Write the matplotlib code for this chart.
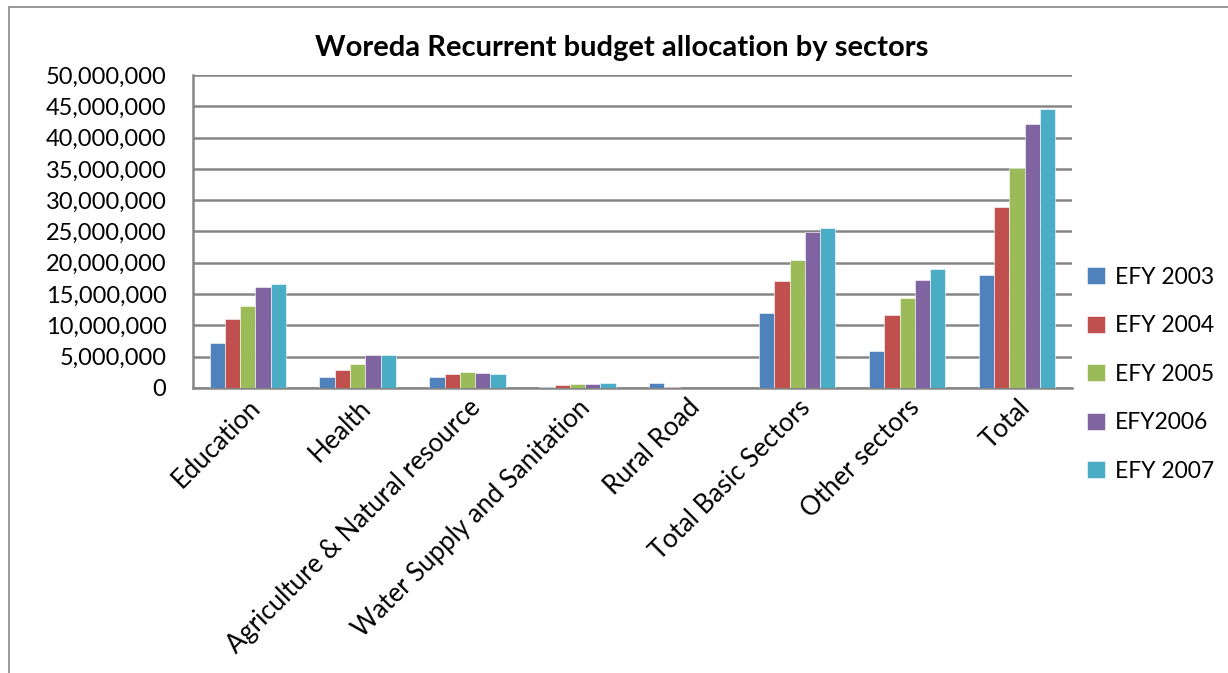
import matplotlib.pyplot as plt
import numpy as np
from matplotlib.patches import Rectangle
from matplotlib.ticker import FuncFormatter, MultipleLocator

plt.rcParams['font.family'] = ['Lato', 'DejaVu Sans']

# sectors and yearly recurrent budget (birr)
sectors = ['Education', 'Health', 'Agriculture & Natural resource',
           'Water Supply and Sanitation', 'Rural Road', 'Total Basic Sectors',
           'Other sectors', 'Total']
years = ['EFY 2003', 'EFY 2004', 'EFY 2005', 'EFY2006', 'EFY 2007']

efy2003 = [7150000, 1700000, 1760000, 160000, 750000, 12000000, 5960000, 18100000]
efy2004 = [11000000, 2800000, 2300000, 480000, 100000, 17070000, 11650000, 28900000]
efy2005 = [13100000, 3800000, 2500000, 700000, 20000, 20500000, 14360000, 35100000]
efy2006 = [16200000, 5300000, 2400000, 640000, 10000, 24900000, 17300000, 42200000]
efy2007 = [16600000, 5200000, 2300000, 850000, 50000, 25500000, 19000000, 44600000]

series = [efy2003, efy2004, efy2005, efy2006, efy2007]
colors = ['#4F81BD', '#C0504D', '#9BBB59', '#8064A2', '#4BACC6']

fig = plt.figure(figsize=(12.28, 6.73), dpi=100)
ax = fig.add_axes([0.157, 0.4235, 0.716, 0.4651])

# outer chart border
fig.patches.append(Rectangle((0.0075, -0.01), 1.2, 1.0, transform=fig.transFigure,
                             fill=False, edgecolor='#888888', linewidth=1.2))

x = np.arange(len(sectors))
width = 0.139
for i, (vals, c, lab) in enumerate(zip(series, colors, years)):
    ax.bar(x + (i - 2) * width, vals, width, color=c, label=lab,
           edgecolor='white', linewidth=0.4, zorder=3)

ax.set_xlim(-0.5, len(sectors) - 0.5)
ax.set_ylim(0, 50000000)
ax.yaxis.set_major_locator(MultipleLocator(5000000))
ax.yaxis.set_major_formatter(FuncFormatter(lambda v, p: f'{int(v):,}'))
ax.grid(axis='y', color='#868686', linewidth=1.8, zorder=0)
ax.set_axisbelow(True)

for s in ['top', 'right']:
    ax.spines[s].set_visible(False)
ax.spines['left'].set_color('#868686')
ax.spines['left'].set_linewidth(1.8)
ax.spines['bottom'].set_color('#868686')
ax.spines['bottom'].set_linewidth(1.8)

ax.tick_params(axis='y', length=0, pad=19, labelsize=17)
ax.tick_params(axis='x', length=0, pad=5)
ax.set_xticks(x)
ax.set_xticklabels(sectors, rotation=45, ha='right', rotation_mode='anchor', fontsize=18.5)

fig.text(0.506, 0.928, 'Woreda Recurrent budget allocation by sectors',
         ha='center', va='center', fontsize=21, fontweight='bold')

fig.legend(loc='center left', bbox_to_anchor=(0.878, 0.444), frameon=False,
           fontsize=16.5, handlelength=0.75, handleheight=0.75, handletextpad=0.45,
           labelspacing=1.2, borderaxespad=0)

fig.savefig('out.png', dpi=100)
